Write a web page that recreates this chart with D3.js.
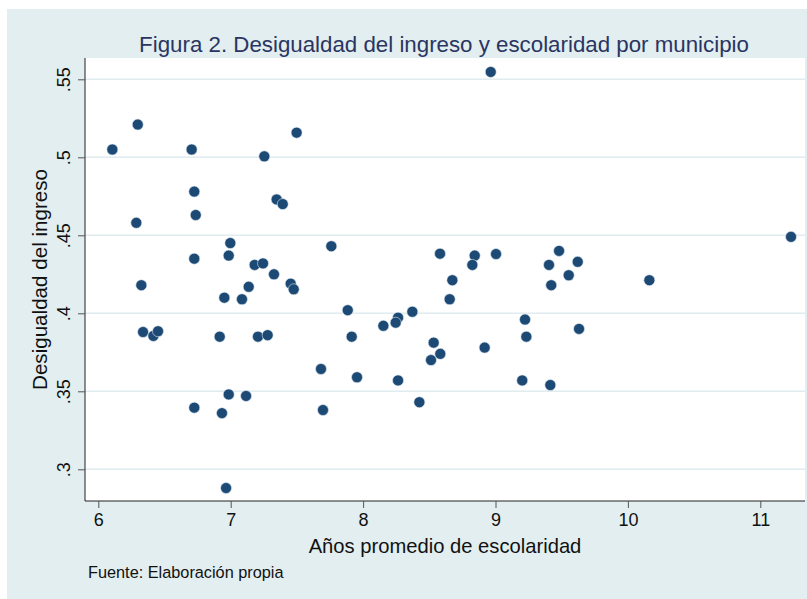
<!DOCTYPE html>
<head>
  <meta charset="utf-8">
  <script src="https://d3js.org/d3.v7.min.js"></script>
  <style>
    body { margin:0; background:#fff; }
    text { font-family: "Liberation Sans", Arial, Helvetica, sans-serif; }
  </style>
</head>
<body>
<script>
  // escolaridad (x) y desigualdad (y) por municipio
  var escolaridad = [6.106, 6.298, 6.705, 7.254, 7.498, 6.725, 7.347, 7.393, 6.736, 6.287,
    6.997, 7.760, 6.725, 6.985, 7.181, 7.244, 7.327, 7.453, 7.476, 6.325,
    7.136, 6.952, 7.085, 7.884, 6.338, 6.416, 6.451, 6.917, 7.206, 7.279,
    7.914, 7.682, 7.954, 6.985, 7.116, 6.725, 6.934, 7.697, 6.965,
    8.964, 11.232, 8.581, 8.843, 9.004, 8.825, 9.480, 9.404, 9.621, 9.553,
    8.674, 9.421, 10.162, 8.654, 8.372, 8.264, 8.246, 8.153, 9.223, 9.233,
    9.631, 8.533, 8.583, 8.513, 8.918, 8.264, 9.202, 9.414, 8.425];
  var desigualdad = [.505, .521, .505, .5006, .5158, .478, .473, .470, .463, .458,
    .445, .443, .435, .437, .431, .432, .425, .419, .4154, .418,
    .417, .410, .409, .402, .388, .3855, .3885, .385, .385, .386,
    .385, .3643, .359, .348, .347, .3395, .336, .338, .288,
    .5547, .449, .4382, .437, .438, .431, .440, .431, .433, .4244,
    .4212, .418, .4212, .409, .401, .3972, .394, .392, .396, .385,
    .390, .3812, .374, .370, .378, .357, .357, .354, .343];
  var xTicks = [6, 7, 8, 9, 10, 11];
  var yTicks = [.3, .35, .4, .45, .5, .55];
  var yTickLabels = [".3", ".35", ".4", ".45", ".5", ".55"];

  var W = 807, H = 599;
  var plot = {left: 85, top: 58, right: 805, bottom: 501};

  var svg = d3.select("body").append("svg")
    .attr("width", W)
    .attr("height", H);

  // fondo
  svg.append("rect")
    .attr("x", 7).attr("y", 9)
    .attr("width", W - 7).attr("height", H - 9)
    .attr("fill", "#e2eef0");
  svg.append("rect")
    .attr("x", plot.left).attr("y", plot.top)
    .attr("width", plot.right - plot.left).attr("height", plot.bottom - plot.top)
    .attr("fill", "#fff");

  var x = d3.scaleLinear().domain([6, 11]).range([98.3, 760.3]);
  var y = d3.scaleLinear().domain([.3, .55]).range([469.3, 79.3]);

  // grid
  svg.append("g").selectAll("line")
    .data(yTicks)
    .enter().append("line")
    .attr("x1", plot.left).attr("x2", plot.right)
    .attr("y1", function(d) { return y(d); })
    .attr("y2", function(d) { return y(d); })
    .attr("stroke", "#e0ecef")
    .attr("stroke-width", 1.5);

  // ejes
  var xAxis = svg.append("g")
    .attr("transform", "translate(0," + plot.bottom + ")")
    .call(d3.axisBottom(x).tickValues(xTicks).tickSize(7).tickPadding(5).tickSizeOuter(0)
      .tickFormat(d3.format("d")));
  xAxis.select(".domain").attr("d", "M" + plot.left + ",0H" + plot.right);
  xAxis.selectAll("text").attr("font-size", 18).attr("fill", "#111")
    .attr("font-family", "Liberation Sans, Arial, sans-serif");

  var yAxis = svg.append("g")
    .attr("transform", "translate(" + plot.left + ",0)")
    .call(d3.axisLeft(y).tickValues(yTicks).tickSize(7).tickSizeOuter(0)
      .tickFormat(function(d, i) { return yTickLabels[i]; }));
  yAxis.select(".domain").attr("d", "M0," + plot.top + "V" + plot.bottom);
  yAxis.selectAll("text")
    .attr("font-size", 18).attr("fill", "#111")
    .attr("font-family", "Liberation Sans, Arial, sans-serif")
    .attr("text-anchor", "middle")
    .attr("x", 0).attr("dy", 0)
    .attr("transform", "translate(-15,0) rotate(-90)");

  svg.selectAll(".domain").attr("stroke", "#222");
  svg.selectAll(".tick line").attr("stroke", "#555");

  // puntos
  svg.append("g").selectAll("circle")
    .data(escolaridad)
    .enter().append("circle")
    .attr("cx", function(d) { return x(d); })
    .attr("cy", function(d, i) { return y(desigualdad[i]); })
    .attr("r", 5.5)
    .attr("fill", "#1c4a75")
    .attr("stroke", "#dfe8f0")
    .attr("stroke-width", 0.6);

  // textos
  svg.append("text")
    .attr("x", 444).attr("y", 52)
    .attr("text-anchor", "middle")
    .attr("font-size", 22.3)
    .attr("fill", "#2a3562")
    .text("Figura 2. Desigualdad del ingreso y escolaridad por municipio");

  svg.append("text")
    .attr("x", 445).attr("y", 553)
    .attr("text-anchor", "middle")
    .attr("font-size", 20.2)
    .attr("fill", "#111")
    .text("Años promedio de escolaridad");

  svg.append("text")
    .attr("transform", "translate(47," + ((plot.top + plot.bottom) / 2) + ") rotate(-90)")
    .attr("text-anchor", "middle")
    .attr("font-size", 20.6)
    .attr("fill", "#111")
    .text("Desigualdad del ingreso");

  svg.append("text")
    .attr("x", 88).attr("y", 578)
    .attr("font-size", 16.3)
    .attr("fill", "#111")
    .text("Fuente: Elaboración propia");
</script>
</body>
